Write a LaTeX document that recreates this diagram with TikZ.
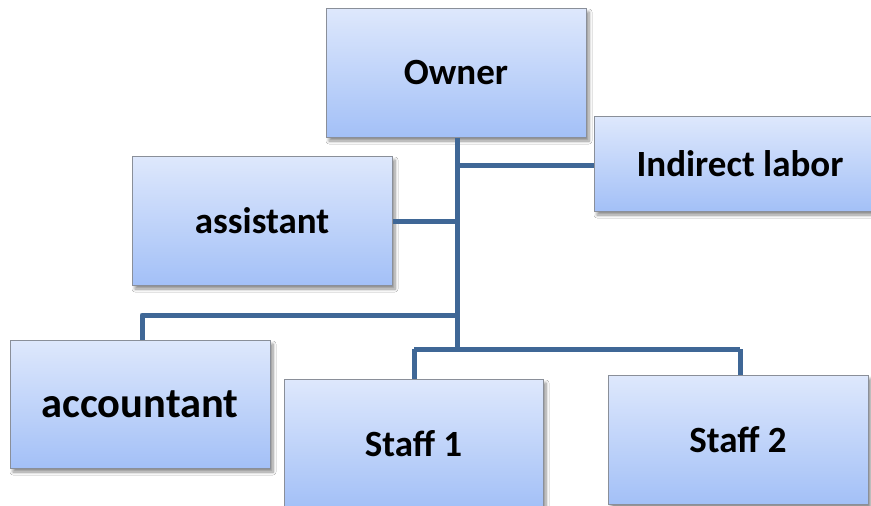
\documentclass[tikz,border=0pt]{standalone}
\usepackage{fontspec}
\setmainfont{Carlito}
\usetikzlibrary{shadows.blur}
\definecolor{boxtop}{HTML}{DEE8FC}
\definecolor{boxbot}{HTML}{A3C0F7}
\definecolor{boxedge}{HTML}{8A8F99}
\definecolor{linkcol}{HTML}{3F6796}
\tikzset{
  orgbox/.style={rectangle, draw=boxedge, line width=1pt, top color=boxtop, bottom color=boxbot,
    inner sep=0pt, font=\bfseries\fontsize{37}{42}\selectfont,
    blur shadow={shadow xshift=3pt, shadow yshift=-4pt, shadow blur steps=6, shadow blur radius=3pt, shadow opacity=45}},
  link/.style={draw=linkcol, line width=5pt, line join=round, line cap=butt}
}
\begin{document}
\begin{tikzpicture}[x=1pt,y=-1pt]
\useasboundingbox (0,0) rectangle (871,506);
\clip (0,0) rectangle (871,506);
\fill[white] (0,0) rectangle (871,506);
\coordinate (hub) at (457,349);
\coordinate (accj) at (457,315);
\coordinate (astj) at (457,221);
\coordinate (indj) at (457,165);
\coordinate (s1j) at (414,349);
\coordinate (s2j) at (740,349);
\coordinate (accc) at (142,315);
\node[orgbox, minimum width=260pt, minimum height=129pt] (owner) at (456,72.5) {Owner};
\node[orgbox, minimum width=292pt, minimum height=95pt] (ind) at (740,163.5) {Indirect labor};
\node[orgbox, minimum width=260pt, minimum height=129pt] (asst) at (262,220.5) {assistant};
\node[orgbox, minimum width=260pt, minimum height=128pt, font=\bfseries\fontsize{42.5}{48}\selectfont] (acc) at (140,404) {accountant};
\node[orgbox, minimum width=259pt, minimum height=129pt] (st1) at (413.5,443.5) {Staff 1};
\node[orgbox, minimum width=260pt, minimum height=129pt] (st2) at (738,439.5) {Staff 2};
\draw[link] (owner.south -| hub) -- (hub);
\draw[link] (indj) -- (ind.west |- indj);
\draw[link] (astj) -- (asst.east |- astj);
\draw[link] (accj) -- (accc) -- (acc.north -| accc);
\draw[link] (s1j) -- (s2j);
\draw[link] (s1j) -- (st1.north -| s1j);
\draw[link] (s2j) -- (st2.north -| s2j);
\end{tikzpicture}
\end{document}
